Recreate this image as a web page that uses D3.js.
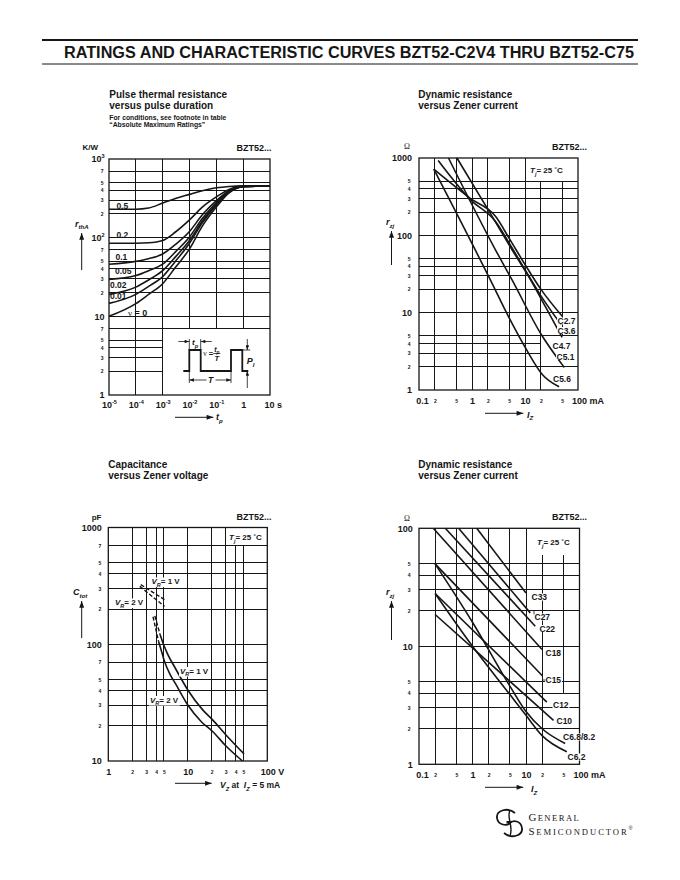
<!DOCTYPE html>
<html><head><meta charset="utf-8">
<script src="https://cdn.jsdelivr.net/npm/d3@7"></script>
<style>
body{margin:0;background:#fff}
svg{display:block}
text{white-space:pre}
</style></head><body>
<script>
// ================= DATA =================
// Chart 1: pulse thermal resistance vs pulse duration (t in s, r in K/W)
const c1Time   = [1e-5, 1e-4, 3e-4, 1e-3, 3e-3, 1e-2, 3e-2, 1e-1, 3e-1, 1, 10];
const c1Duty05  = [230, 230, 238, 275, 315, 355, 395, 430, 447, 455, 455];
const c1Duty02  = [85, 85, 86, 92, 118, 168, 245, 330, 410, 452, 455];
const c1Duty01  = [46, 50, 54, 62, 82, 120, 195, 295, 395, 450, 455];
const c1Duty005 = [29.5, 33, 38, 46, 66, 102, 175, 280, 390, 448, 455];
const c1Duty002 = [19, 23.5, 29, 38, 57, 92, 163, 268, 385, 447, 455];
const c1Duty001 = [14.6, 19, 24, 32, 50, 85, 155, 260, 380, 446, 455];
const c1Duty0   = [10, 14.5, 19, 26, 42, 72, 140, 245, 370, 443, 455];
const c1Labels  = ["0.5", "0.2", "0.1", "0.05", "0.02", "0.01", "\u03bd = 0"];
const c1XTicks  = [1e-5, 1e-4, 1e-3, 1e-2, 1e-1, 1, 10];
const c1YTicks  = [1, 10, 100, 1000];

// Chart 2: dynamic resistance vs Zener current (mA, ohm), low voltage types
const c2Names = ["C2.7", "C3.6", "C4.7", "C5.1", "C5.6"];
const c2C27 = [[0.19,716],[0.93,300],[2.8,175],[5,92],[10,42],[20,20],[51,8.9]];
const c2C36 = [[0.23,930],[0.93,290],[2.8,150],[5,80],[10,36],[20,16.5],[48,7]];
const c2C47 = [[0.52,1000],[2.8,147],[5.7,65],[13,26],[25,11.5],[50,4.8]];
const c2C51 = [[0.36,1000],[2.77,65],[5.7,26.5],[20,5.3],[55,1.96]];
const c2C56 = [[0.19,716],[2.22,26.5],[5,8.6],[11,3.2],[21,1.6],[44,1.1]];

// Chart 3: capacitance vs Zener voltage (V, pF)
const c3VR1 = [[4.5,120],[5.0,98],[5.5,84],[7,62],[10,40.6],[15.4,27.4],[20.5,22.5],[30,16.8],[51,11.5]];
const c3VR2 = [[4.3,105],[4.7,86],[5.1,71],[6,55],[7,46],[10,30.2],[15,21.5],[20.5,17.9],[30,13.5],[48.6,10]];
const c3VR1DashHigh = [[2.56,324],[5.1,241]];
const c3VR2DashHigh = [[2.49,313],[5.1,211]];
const c3VR1DashSteep = [[3.85,175],[4.5,120]];
const c3VR2DashSteep = [[3.65,172],[4.3,105]];

// Chart 4: dynamic resistance vs Zener current (mA, ohm), higher voltage types
const c4Names = ["C33","C27","C22","C18","C15","C12","C10","C6.8/8.2","C6.2"];
const c4C33 = [[1.2,100],[10,28.3]];
const c4C27 = [[0.55,100],[12,19.2]];
const c4C22 = [[0.31,100],[14.9,14.8]];
const c4C18 = [[0.185,100],[19.9,9.4]];
const c4C15 = [[0.2,50],[20.4,5.6]];
const c4C12 = [[0.2,28],[24.5,3.36]];
const c4C10 = [[0.2,18.6],[32.7,2.36]];
const c4C68 = [[0.2,50],[1,16],[5,4.6],[10,2.8],[20,2.0],[54,1.5]];
const c4C62 = [[0.2,28],[1,10],[5,3.9],[10,2.6],[20,1.75],[58,1.28]];

const izTicks = [0.1, 1, 10, 100];
const izMinor = [0.2, 0.5, 2, 5, 20, 50];

// ================= LAYOUT =================
const F = '"Liberation Sans", Arial, Helvetica, sans-serif';
const SERIF = '"Liberation Serif", "DejaVu Serif", serif';
const INK = '#161616';

const svg = d3.select('body').append('svg').attr('width',680).attr('height',880);
svg.append('rect').attr('width',680).attr('height',880).attr('fill','#fff');

const defs = svg.append('defs');
defs.append('marker').attr('id','ah').attr('viewBox','0 0 8 6').attr('refX',8).attr('refY',3)
  .attr('markerWidth',8).attr('markerHeight',5).attr('markerUnits','userSpaceOnUse').attr('orient','auto')
  .append('path').attr('d','M0,0L8,3L0,6Z').attr('fill',INK);
defs.append('marker').attr('id','ahs').attr('viewBox','0 0 8 6').attr('refX',8).attr('refY',3)
  .attr('markerWidth',5).attr('markerHeight',3.5).attr('markerUnits','userSpaceOnUse').attr('orient','auto')
  .append('path').attr('d','M0,0L8,3L0,6Z').attr('fill',INK);

function rich(parent, x, y, parts, size, o={}){
  const t = parent.append('text').attr('x',x).attr('y',y).attr('font-size',size)
    .attr('font-family',o.family||F).attr('font-weight',o.weight||'bold').attr('fill',INK)
    .attr('text-anchor',o.anchor||'start');
  let shift = 0;
  parts.forEach(p=>{
    if(typeof p==='string') p={t:p};
    const target = p.sub ? size*0.32 : (p.sup ? -size*0.42 : 0);
    const ts = t.append('tspan').text(p.t);
    if(target!==shift) ts.attr('dy', target-shift);
    shift = target;
    if(p.sub||p.sup) ts.attr('font-size', size*0.68);
    if(p.it) ts.attr('font-style','italic');
    if(p.family) ts.attr('font-family',p.family);
    if(p.weight) ts.attr('font-weight',p.weight);
  });
  return t;
}
function whiteBg(t, px=1, py=0){
  const n = t.node(); const b = n.getBBox();
  d3.select(n.parentNode).insert('rect', ()=>n).attr('x',b.x-px).attr('y',b.y+1-py)
    .attr('width',b.width+2*px).attr('height',b.height-2+2*py).attr('fill','#fff');
}
function arrow(parent, x1,y1,x2,y2, small){
  return parent.append('line').attr('x1',x1).attr('y1',y1).attr('x2',x2).attr('y2',y2)
    .attr('stroke',INK).attr('stroke-width', small?0.8:1).attr('marker-end', small?'url(#ahs)':'url(#ah)');
}

function panel(o){
  const x = d3.scaleLog().domain(o.xd).range(o.xr);
  const y = d3.scaleLog().domain(o.yd).range(o.yr);
  const g = svg.append('g');
  const grid = g.append('g').attr('stroke',INK).attr('stroke-width',1).attr('shape-rendering','crispEdges');
  o.vg.forEach(v=>{
    const segs = (o.vseg && o.vseg[v]) || [o.yd];
    segs.forEach(s=>grid.append('line').attr('x1',x(v)).attr('x2',x(v)).attr('y1',y(s[0])).attr('y2',y(s[1])));
  });
  o.hg.forEach(v=>{
    const segs = (o.hseg && o.hseg[v]) || [o.xd];
    segs.forEach(s=>grid.append('line').attr('y1',y(v)).attr('y2',y(v)).attr('x1',x(s[0])).attr('x2',x(s[1])));
  });
  g.append('rect').attr('x',o.xr[0]).attr('y',o.yr[1]).attr('width',o.xr[1]-o.xr[0])
    .attr('height',o.yr[0]-o.yr[1]).attr('fill','none').attr('stroke',INK).attr('stroke-width',1.3);
  const curves = g.append('g');
  const labels = g.append('g');
  return {g,x,y,curves,labels};
}
const lg = v => Math.round(Math.log10(v));
function minorFmt(d){ const e = Math.floor(Math.log10(d)+1e-9); return String(Math.round(d/Math.pow(10,e))); }
function axisY(P, vals, fmt, pad, size){
  const ag = P.g.append('g').attr('transform',`translate(${P.x.range()[0]},0)`)
    .call(d3.axisLeft(P.y).tickValues(vals).tickSize(0).tickPadding(pad).tickFormat(fmt));
  ag.select('.domain').remove();
  ag.attr('font-family',F).attr('font-size',size).attr('font-weight','bold');
  ag.selectAll('text').attr('fill',INK);
  return ag;
}
function axisX(P, vals, fmt, pad, size){
  const ag = P.g.append('g').attr('transform',`translate(0,${P.y.range()[0]})`)
    .call(d3.axisBottom(P.x).tickValues(vals).tickSize(0).tickPadding(pad).tickFormat(fmt));
  ag.select('.domain').remove();
  ag.attr('font-family',F).attr('font-size',size).attr('font-weight','bold');
  ag.selectAll('text').attr('fill',INK);
  return ag;
}
function supify(ag, fn, size){
  ag.selectAll('.tick text').each(function(d){
    const s = fn(d); if(!s) return;
    const t = d3.select(this).text(null);
    t.append('tspan').text(s[0]);
    t.append('tspan').attr('dy', -size*0.45).attr('font-size', size*0.62).text(s[1]);
  });
}
function anchorStart(ag, val, dx){
  ag.selectAll('.tick').filter(d=>Math.abs(d-val)<1e-9).select('text').attr('text-anchor','start').attr('x',dx);
}
function drawCurve(P, pts, o={}){
  const line = d3.line().x(d=>P.x(d[0])).y(d=>P.y(d[1])).curve(o.linear?d3.curveLinear:d3.curveMonotoneX);
  return P.curves.append('path').datum(pts).attr('d',line).attr('fill','none').attr('stroke',INK)
    .attr('stroke-width',o.w||1.6).attr('stroke-dasharray',o.dash||null).attr('stroke-linejoin','round');
}
const dec = (ds, ms) => ms.flatMap(m=>ds.map(d=>m*d)).sort((a,b)=>a-b);

// ================= HEADER =================
svg.append('line').attr('x1',42).attr('x2',638).attr('y1',40).attr('y2',40).attr('stroke',INK).attr('stroke-width',2);
svg.append('line').attr('x1',42).attr('x2',638).attr('y1',64).attr('y2',64).attr('stroke',INK).attr('stroke-width',1);
svg.append('text').attr('x',64).attr('y',58).attr('font-family',F).attr('font-weight','bold').attr('font-size',16)
  .attr('fill',INK).attr('textLength',570).attr('lengthAdjust','spacingAndGlyphs')
  .text('RATINGS AND CHARACTERISTIC CURVES BZT52-C2V4 THRU BZT52-C75');

// ================= CHART 1 =================
const P1 = panel({xd:[1e-5,10], xr:[109,270], yd:[1,1000], yr:[395,159],
  vg:[1e-4,1e-3,1e-2,1e-1,1],
  hg:dec([1,10,100],[2,3,4,5,7]).concat([10,100]),
  vseg:{[1e-2]:[[7,1000]],[1e-1]:[[7,1000]],[1]:[[7,1000]]},
  hseg:{2:[[1e-5,1e-3]],3:[[1e-5,1e-3]],4:[[1e-5,1e-3]],5:[[1e-5,1e-3]]}});
[c1Duty05,c1Duty02,c1Duty01,c1Duty005,c1Duty002,c1Duty001,c1Duty0].forEach(s=>
  drawCurve(P1, c1Time.map((t,i)=>[t,s[i]])));
const c1LabelPos = [[116.5,208.5],[116.5,237.5],[115.5,260],[115,273.5],[110,287.5],[110,299],[128,316]];
c1Labels.forEach((l,i)=>{
  if(i===6) rich(P1.labels, c1LabelPos[i][0], c1LabelPos[i][1], [{t:'\u03bd',family:SERIF,weight:'normal'},' = 0'], 9);
  else rich(P1.labels, c1LabelPos[i][0], c1LabelPos[i][1], [l], 8.5);
});
{
  const ay = axisY(P1, c1YTicks, d=>({0:'1',1:'10',2:'10',3:'10'})[lg(d)], 4.5, 9);
  supify(ay, d=>lg(d)>=2?['10',String(lg(d))]:null, 9);
  axisY(P1, dec([1,10,100],[2,3,4,5,7]), minorFmt, 5.5, 5);
  const ax = axisX(P1, c1XTicks, d=>lg(d)===0?'1':(lg(d)===1?'10 s':'10'), 7, 9);
  supify(ax, d=>lg(d)<0?['10','-'+(-lg(d))]:null, 9);
  anchorStart(ax, 10, -6);
}
// inset schematic
{
  const g = P1.labels, ox=183.3, oy=371, h=21;
  const wave = [[0,0],[6,0],[6,-h],[17.4,-h],[17.4,0],[47.7,0],[47.7,-h],[59,-h],[59,0],[65,0]];
  g.append('path').attr('d', d3.line()(wave.map(p=>[ox+p[0],oy+p[1]]))).attr('fill','none').attr('stroke',INK).attr('stroke-width',1.8);
  const thin = (x1,y1,x2,y2)=>g.append('line').attr('x1',x1).attr('y1',y1).attr('x2',x2).attr('y2',y2).attr('stroke',INK).attr('stroke-width',0.8);
  thin(ox+6,oy-h-11,ox+6,oy-h); thin(ox+17.4,oy-h-11,ox+17.4,oy-h);
  arrow(g, ox-5, oy-h-8.5, ox+6, oy-h-8.5, true);
  arrow(g, ox+28.4, oy-h-8.5, ox+17.4, oy-h-8.5, true);
  rich(g, ox+11.7, oy-h-5, [{t:'t',it:true},{t:'p',sub:true,it:true}], 8, {anchor:'middle'});
  rich(g, ox+20, oy-15, [{t:'\u03bd',family:SERIF,weight:'normal'},' ='], 7.5);
  rich(g, ox+33.5, oy-19.5, [{t:'t',it:true},{t:'p',sub:true,it:true}], 7, {anchor:'middle'});
  thin(ox+30, oy-17.5, ox+37, oy-17.5);
  rich(g, ox+33.5, oy-10, [{t:'T',it:true}], 7.5, {anchor:'middle'});
  thin(ox+6, oy, ox+6, oy+12); thin(ox+47.7, oy, ox+47.7, oy+12);
  arrow(g, ox+27, oy+9, ox+6, oy+9, true); arrow(g, ox+27, oy+9, ox+47.7, oy+9, true);
  const tt = rich(g, ox+27.3, oy+12.3, [{t:'T',it:true}], 8.5, {anchor:'middle'}); whiteBg(tt,1.5);
  thin(ox+59, oy-h, ox+67, oy-h);
  arrow(g, ox+64, oy-h-11, ox+64, oy-h, true);
  arrow(g, ox+64, oy+17, ox+64, oy, true);
  rich(g, ox+63.4, oy-7, [{t:'P',it:true},{t:'I',sub:true,it:true}], 9);
}
// titles & axis names
rich(svg, 109.3, 97.5, ['Pulse thermal resistance'], 10);
rich(svg, 109.3, 108.5, ['versus pulse duration'], 10);
rich(svg, 109.3, 119.5, ['For conditions, see footnote in table'], 6.8);
rich(svg, 109.3, 126.5, ['\u201cAbsolute Maximum Ratings\u201d'], 6.8);
rich(svg, 82.5, 150, ['K/W'], 8);
rich(svg, 271.5, 150.5, ['BZT52...'], 9, {anchor:'end'});
rich(svg, 75, 226.5, [{t:'r',it:true},{t:'thA',sub:true,it:true}], 9);
arrow(svg, 81.7, 270, 81.7, 233);
arrow(svg, 175, 417.3, 213.3, 417.3);
rich(svg, 216, 420, [{t:'t',it:true},{t:'p',sub:true,it:true}], 9);

// ================= CHART 2 =================
const P2 = panel({xd:[0.1,100], xr:[419,578], yd:[1,1000], yr:[390,158],
  vg:[0.2,0.5,1,2,5,10,20,50],
  hg:dec([1,10,100],[2,3,4,5]).concat([10,100]),
  vseg:{20:[[1,500]],50:[[5,500]]},
  hseg:{3:[[0.1,20]],4:[[0.1,20]]}});
[c2C27,c2C36,c2C47,c2C51,c2C56].forEach(s=>drawCurve(P2, s));
const c2LabelPos = [[557.5,324],[557.5,333.5],[552.5,348.5],[556.5,359.5],[553,381.5]];
c2Names.forEach((n,i)=>whiteBg(rich(P2.labels, c2LabelPos[i][0], c2LabelPos[i][1], [n], 8.5),0.5,-0.5));
{
  axisY(P2, c1YTicks, d=>String(d), 7, 9);
  axisY(P2, dec([1,10,100],[2,3,4,5]), minorFmt, 8.5, 5);
  const ax = axisX(P2, izTicks, d=>d===100?'100 mA':String(d), 7.5, 9);
  anchorStart(ax, 100, -6.5);
  ax.selectAll('.tick').filter(d=>d===0.1).select('text').attr('x',3);
  axisX(P2, izMinor, minorFmt, 9.5, 5);
}
rich(svg, 418.3, 97.5, ['Dynamic resistance'], 10);
rich(svg, 418.3, 108.5, ['versus Zener current'], 10);
rich(svg, 404, 148.5, ['\u03a9'], 8, {weight:'normal', family:SERIF});
rich(svg, 587, 150, ['BZT52...'], 9, {anchor:'end'});
rich(P2.labels, 530, 173, [{t:'T',it:true},{t:'j',sub:true,it:true},{t:'= 25 \u02daC'}], 8);
rich(svg, 386, 225, [{t:'r',it:true},{t:'zj',sub:true,it:true}], 9);
arrow(svg, 391.5, 265, 391.5, 231);
arrow(svg, 485, 413.3, 523.3, 413.3);
rich(svg, 527, 417.5, [{t:'I',it:true},{t:'Z',sub:true,it:true}], 9);

// ================= CHART 3 =================
const P3 = panel({xd:[1,100], xr:[108.3,267.3], yd:[10,1000], yr:[761,527.5],
  vg:[2,3,4,5,10,20,30,40,50],
  hg:dec([10,100],[2,3,4,5,7]).concat([100]),
  vseg:{40:[[10,700]],50:[[10,700]]}});
drawCurve(P3, c3VR1); drawCurve(P3, c3VR2);
[c3VR1DashHigh,c3VR2DashHigh,c3VR1DashSteep,c3VR2DashSteep].forEach(s=>drawCurve(P3, s, {dash:'4,2', linear:true, w:1.4}));
{
  axisY(P3, [10,100,1000], d=>String(d), 6.6, 9);
  axisY(P3, dec([10,100],[2,3,4,5,7]), minorFmt, 7, 5);
  const ax = axisX(P3, [1,10,100], d=>d===100?'100 V':String(d), 7.5, 9);
  anchorStart(ax, 100, -7);
  axisX(P3, [2,3,4,5,20,30,40,50], minorFmt, 9.5, 5);
}
[[151.5,584,'1'],[115,605,'2'],[180,673.5,'1'],[150,702.5,'2']].forEach(p=>
  whiteBg(rich(P3.labels, p[0], p[1], [{t:'V',it:true},{t:'R',sub:true,it:true},{t:'= '+p[2]+' V'}], 8), 1, 0.5));
rich(P3.labels, 229, 540, [{t:'T',it:true},{t:'j',sub:true,it:true},{t:'= 25 \u02daC'}], 8);
rich(svg, 108.3, 467.5, ['Capacitance'], 10);
rich(svg, 108.3, 478.5, ['versus Zener voltage'], 10);
rich(svg, 101.5, 520, ['pF'], 8, {anchor:'end'});
rich(svg, 271.5, 520, ['BZT52...'], 9, {anchor:'end'});
rich(svg, 73, 595, [{t:'C',it:true},{t:'tot',sub:true,it:true}], 9);
arrow(svg, 81.7, 638, 81.7, 601);
arrow(svg, 175, 783.3, 211.7, 783.3);
rich(svg, 220, 788, [{t:'V',it:true},{t:'Z',sub:true,it:true},' at  ',{t:'I',it:true},{t:'Z',sub:true,it:true},' = 5 mA'], 8.5);

// ================= CHART 4 =================
const P4 = panel({xd:[0.1,100], xr:[419,579.5], yd:[1,100], yr:[764.3,528.3],
  vg:[0.2,0.5,1,2,5,10,20,50],
  hg:dec([1,10],[2,3,4,5]).concat([10]),
  vseg:{20:[[1,59]],50:[[4,59]]}});
[c4C33,c4C27,c4C22,c4C18,c4C15,c4C12,c4C10].forEach(s=>drawCurve(P4, s, {linear:true}));
[c4C68,c4C62].forEach(s=>drawCurve(P4, s));
const c4LabelPos = [[531.5,600],[534.5,620],[539.5,631.5],[545.5,656],[545.5,683],[553,708],[556.5,723.5],[563,740],[567.5,760]];
c4Names.forEach((n,i)=>whiteBg(rich(P4.labels, c4LabelPos[i][0], c4LabelPos[i][1], [n], 8.5),0.5,-0.5));
P4.labels.append('line').attr('x1',534).attr('x2',534).attr('y1',611).attr('y2',614.5).attr('stroke',INK).attr('stroke-width',0.8);
P4.labels.append('line').attr('x1',543).attr('x2',545.5).attr('y1',680).attr('y2',680).attr('stroke',INK).attr('stroke-width',0.8);
{
  axisY(P4, [1,10,100], d=>String(d), 6.3, 9);
  axisY(P4, dec([1,10],[2,3,4,5]), minorFmt, 8.5, 5);
  const ax = axisX(P4, izTicks, d=>d===100?'100 mA':String(d), 7.5, 9);
  anchorStart(ax, 100, -6.5);
  ax.selectAll('.tick').filter(d=>d===0.1).select('text').attr('x',3);
  axisX(P4, izMinor, minorFmt, 9.5, 5);
}
rich(P4.labels, 537, 545, [{t:'T',it:true},{t:'j',sub:true,it:true},{t:'= 25 \u02daC'}], 8);
rich(svg, 418.3, 467.5, ['Dynamic resistance'], 10);
rich(svg, 418.3, 478.5, ['versus Zener current'], 10);
rich(svg, 404, 521, ['\u03a9'], 8, {weight:'normal', family:SERIF});
rich(svg, 587, 520, ['BZT52...'], 9, {anchor:'end'});
rich(svg, 386, 595, [{t:'r',it:true},{t:'zj',sub:true,it:true}], 9);
arrow(svg, 391.5, 640, 391.5, 601);
arrow(svg, 485, 787.3, 523.3, 787.3);
rich(svg, 531, 792, [{t:'I',it:true},{t:'Z',sub:true,it:true}], 9);

// ================= LOGO =================
{
  const g = svg.append('g').attr('fill','none').attr('stroke',INK).attr('stroke-width',1.8);
  g.append('path').attr('d','M515,813 C508,807 496,810 497,818 C498,825 507,827 511,822 L506.5,822');
  g.append('path').attr('d','M504,833 C511,839 523,836 522,828 C521,821 513,819 509,824');
  g.append('path').attr('d','M510,810 C506,818 514,826 510,836').attr('stroke-width',1.4);
  const t1 = svg.append('text').attr('x',528.5).attr('y',821.3).attr('font-family',SERIF).attr('fill',INK);
  t1.append('tspan').attr('font-size',11).attr('letter-spacing',1.2).text('G');
  t1.append('tspan').attr('font-size',8.6).attr('letter-spacing',1.45).text('ENERAL');
  const t2 = svg.append('text').attr('x',528.5).attr('y',834.6).attr('font-family',SERIF).attr('fill',INK);
  t2.append('tspan').attr('font-size',11).attr('letter-spacing',1.6).text('S');
  t2.append('tspan').attr('font-size',8.6).attr('letter-spacing',1.95).text('EMICONDUCTOR');
  t2.append('tspan').attr('font-family',F).attr('font-size',5).attr('dy',-5).attr('letter-spacing',0).text('\u00ae');
}
</script></body></html>
